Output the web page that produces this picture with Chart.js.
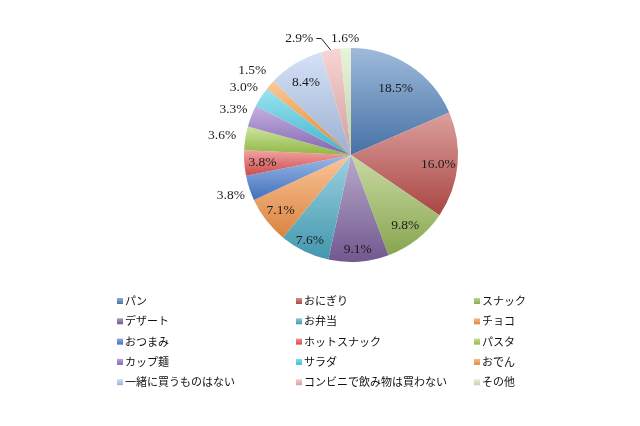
<!DOCTYPE html>
<html><head><meta charset="utf-8">
<script src="https://cdn.jsdelivr.net/npm/chart.js@4/dist/chart.umd.min.js"></script>
<style>html,body{margin:0;padding:0;background:#fff}#wrap{width:640px;height:426px;position:relative}</style>
</head><body><div id="wrap"><canvas id="c" width="640" height="426"></canvas></div>
<script>
const categories = ['パン','おにぎり','スナック','デザート','お弁当','チョコ','おつまみ','ホットスナック','パスタ','カップ麺','サラダ','おでん','一緒に買うものはない','コンビニで飲み物は買わない','その他'];
const values = [18.5,16.0,9.8,9.1,7.6,7.1,3.8,3.8,3.6,3.3,3.0,1.5,8.4,2.9,1.6];
const colors = ['#4F81BD','#C0504D','#9BBB59','#8064A2','#4BACC6','#F79646','#4A7FD6','#E85555','#A4CF50','#9472C8','#48CCE6','#F79B40','#B2C8EE','#F0B2B2','#D6EBBE'];

function mix(hex, t, target){
  const n=parseInt(hex.slice(1),16); const r=n>>16,g=(n>>8)&255,b=n&255;
  const f=v=>Math.round(v+(target-v)*t);
  return 'rgb('+f(r)+','+f(g)+','+f(b)+')';
}
function sliceGradient(ctx){
  const chart=ctx.chart, ca=chart.chartArea, i=ctx.dataIndex;
  if(!ca || i===undefined) return colors[i]||'#ccc';
  const cx=(ca.left+ca.right)/2, cy=(ca.top+ca.bottom)/2, r=Math.min(ca.width,ca.height)/2;
  const total=values.reduce((a,b)=>a+b,0);
  let s=0; for(let k=0;k<i;k++) s+=values[k];
  const a0=s/total*Math.PI*2, a1=(s+values[i])/total*Math.PI*2;
  const ys=[cy, cy-r*Math.cos(a0), cy-r*Math.cos(a1)];
  if(a0<=0.0001) ys.push(cy-r);
  if(a0<=Math.PI && a1>=Math.PI) ys.push(cy+r);
  const y0=Math.min(...ys), y1=Math.max(...ys);
  const g=chart.ctx.createLinearGradient(0,y0,0,Math.max(y1,y0+1));
  g.addColorStop(0, mix(colors[i],0.45,255));
  g.addColorStop(1, mix(colors[i],0.12,0));
  return g;
}

const labelRadius=[0.76,0.82,0.82,0.88,0.88,0.83,1.18,0.83,1.22,1.18,1.19,1.22,0.81,1.2,1.1];
const labelAngleShift=[0,0,0,0,0,0,0,0,0,0,0,0,0,-12.8,0];

const labelPlugin={
  id:'pctLabels',
  afterDatasetsDraw(chart){
    const c=chart.ctx; const meta=chart.getDatasetMeta(0);
    c.save();
    c.font='13.5px "Liberation Serif"';
    c.fillStyle='#1a1a1a'; c.textAlign='center'; c.textBaseline='middle';
    meta.data.forEach((arc,i)=>{
      const p=arc.getProps(['x','y','startAngle','endAngle','outerRadius'],true);
      const mid=(p.startAngle+p.endAngle)/2;
      const a=mid+labelAngleShift[i]*Math.PI/180;
      const rr=p.outerRadius*labelRadius[i];
      const lx=p.x+rr*Math.cos(a), ly=p.y+rr*Math.sin(a)+1;
      const txt=values[i].toFixed(1)+'%';
      c.fillText(txt,lx,ly);
      if(labelAngleShift[i]!==0){
        const w=c.measureText(txt).width;
        const sx=lx+w/2+3, ex=p.x+p.outerRadius*Math.cos(mid), ey=p.y+p.outerRadius*Math.sin(mid);
        c.strokeStyle='#222'; c.lineWidth=1;
        c.beginPath(); c.moveTo(sx,ly); c.lineTo(sx+5,ly); c.lineTo(ex,ey); c.stroke();
      }
    });
    c.restore();
  }
};

const legendPlugin={
  id:'gridLegend',
  afterDraw(chart){
    const c=chart.ctx;
    const colX=[117,296,474], rowY0=301, rowH=20.3;
    c.save();
    c.font='11px "Noto Sans CJK JP"'; c.textBaseline='middle'; c.textAlign='left';
    categories.forEach((name,i)=>{
      const x=colX[i%3], y=rowY0+Math.floor(i/3)*rowH;
      const g=c.createLinearGradient(0,y-3,0,y+3);
      g.addColorStop(0,mix(colors[i],0.35,255)); g.addColorStop(1,mix(colors[i],0.1,0));
      c.fillStyle=g; c.fillRect(x,y-3,6,6);
      c.fillStyle='#111'; c.fillText(name,x+8,y);
    });
    c.restore();
  }
};

new Chart(document.getElementById('c'),{
  type:'pie',
  data:{labels:categories,datasets:[{data:values,backgroundColor:sliceGradient,borderWidth:0}]},
  options:{
    responsive:false, animation:false,
    layout:{padding:{left:244,right:182,top:48,bottom:164}},
    plugins:{legend:{display:false},tooltip:{enabled:false}}
  },
  plugins:[labelPlugin,legendPlugin]
});
</script></body></html>
